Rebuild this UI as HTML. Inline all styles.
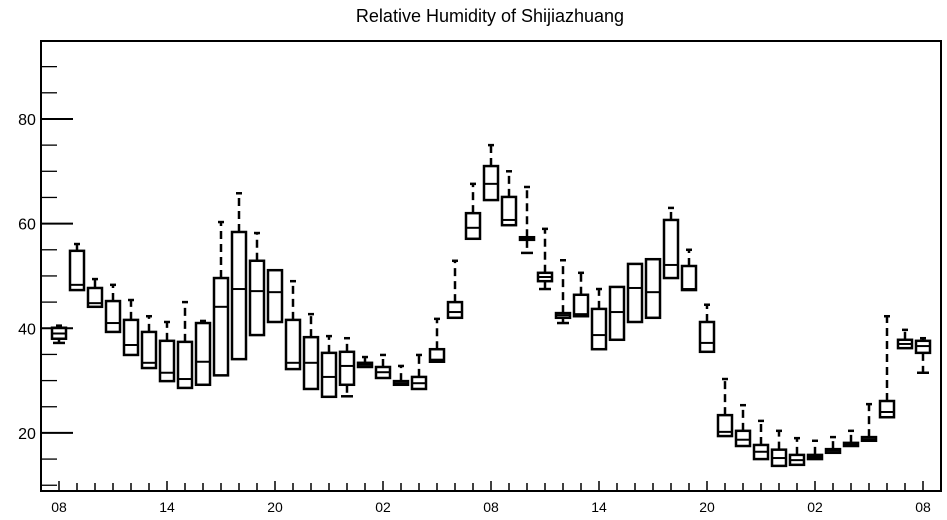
<!DOCTYPE html>
<html><head><meta charset="utf-8"><style>body{margin:0;background:#fff}svg{display:block}</style></head>
<body>
<svg id="chart" width="947" height="520" xmlns="http://www.w3.org/2000/svg" font-family="Liberation Sans, sans-serif">
<text x="490" y="22" text-anchor="middle" font-size="18">Relative Humidity of Shijiazhuang</text>
<g id="axes"></g>
<g id="boxes"></g>
<rect x="41" y="41" width="900" height="450" fill="none" stroke="#000" stroke-width="2"/>
</svg>
<script>
const q3 =  [40.1,54.8,47.7,45.2,41.6,39.3,37.6,37.4,41.0,49.6,58.4,52.9,51.1,41.6,38.3,35.3,35.5,33.4,32.6,29.9,30.7,36.0,45.0,62.0,71.0,65.1,57.4,50.6,42.9,46.4,43.7,47.9,52.3,53.2,60.7,51.9,41.2,23.4,20.4,17.7,16.8,15.8,15.8,16.9,18.1,19.2,26.1,37.8,37.6];
const q1 =  [38.0,47.3,44.1,39.3,34.9,32.4,29.9,28.6,29.2,31.0,34.1,38.7,41.2,32.2,28.4,26.9,29.2,32.6,30.5,29.2,28.4,33.6,42.0,57.1,64.5,59.7,56.9,49.0,42.0,42.3,36.0,37.8,41.2,42.0,49.6,47.3,35.5,19.4,17.5,15.0,13.7,13.9,15.0,16.2,17.5,18.5,23.0,36.2,35.3];
const med = [39.0,48.3,44.8,41.0,36.8,33.4,31.5,30.3,33.6,44.1,47.5,47.1,46.9,33.4,33.4,30.7,32.8,33.0,31.6,29.5,29.5,34.0,43.1,59.2,67.6,60.7,57.1,49.8,42.5,42.7,38.7,43.1,47.7,46.9,52.1,47.5,37.2,20.2,18.7,16.4,15.2,14.8,15.4,16.6,17.7,18.8,24.0,37.0,36.6];
const maxs =[40.5,56.1,49.4,48.3,45.4,42.3,41.2,45.0,41.4,60.3,65.8,58.2,51.1,49.0,42.7,38.5,38.1,34.5,34.9,32.8,34.9,41.8,52.9,67.6,75.0,70.0,67.0,59.0,53.0,50.6,47.5,47.3,52.3,53.2,63.0,55.0,44.5,30.3,25.3,22.3,20.4,19.0,18.5,19.2,20.4,25.5,42.3,39.7,38.1];
const mins =[37.2,47.3,44.1,39.3,34.9,32.4,29.9,28.6,29.2,31.0,34.1,38.7,41.2,32.2,28.4,26.9,27.0,32.6,30.5,29.2,28.4,33.6,42.0,57.1,64.5,59.7,54.4,47.5,41.0,42.3,36.0,37.8,41.2,42.0,49.6,47.3,35.5,19.4,17.5,15.0,13.7,13.9,15.0,16.2,17.5,18.5,23.0,36.2,31.5];
const yTicks = [20,40,60,80];
const xLabels = ["08","14","20","02","08","14","20","02","08"];
const NS="http://www.w3.org/2000/svg";
const yMin=8.9,yMax=94.9,plotTop=41,plotBot=491;
const y=v=>plotBot-(v-yMin)/(yMax-yMin)*(plotBot-plotTop);
const x=i=>59+18*i;
function mk(tag,attrs,parent){const e=document.createElementNS(NS,tag);for(const k in attrs)e.setAttribute(k,attrs[k]);parent.appendChild(e);return e;}
const ax=document.getElementById('axes');
for(let v=10;v<=90;v+=5){
  const major=yTicks.includes(v);
  const t=mk('line',{x1:41,x2:major?73:57,y1:y(v),y2:y(v),stroke:'#000','stroke-width':major?2:1.3},ax);
  
  
}
yTicks.forEach(v=>{const t=mk('text',{x:27,y:y(v)+6,'text-anchor':'middle','font-size':16},ax);t.textContent=v;
  
  });
for(let i=0;i<q3.length;i++){
  const t=mk('line',{x1:x(i),x2:x(i),y1:plotBot,y2:plotBot-(i%6==0?10:8),stroke:'#000','stroke-width':1.5},ax);
  
  
}
xLabels.forEach((l,k)=>{const t=mk('text',{x:x(k*6),y:512,'text-anchor':'middle','font-size':14},ax);t.textContent=l;
  
  });
const bx=document.getElementById('boxes');
for(let i=0;i<q3.length;i++){
  const g=mk('g',{},bx);
  
  
  const cx=x(i);
  if(maxs[i]>q3[i]+0.3){
    mk('line',{x1:cx,x2:cx,y1:y(q3[i]),y2:y(maxs[i]),stroke:'#000','stroke-width':2.5,'stroke-dasharray':'8,5'},g);
    mk('line',{x1:cx-3,x2:cx+3,y1:y(maxs[i]),y2:y(maxs[i]),stroke:'#000','stroke-width':2.5},g);
  }
  if(mins[i]<q1[i]-0.3){
    mk('line',{x1:cx,x2:cx,y1:y(q1[i]),y2:y(mins[i]),stroke:'#000','stroke-width':2.5,'stroke-dasharray':'8,5'},g);
    mk('line',{x1:cx-6,x2:cx+6,y1:y(mins[i]),y2:y(mins[i]),stroke:'#000','stroke-width':2.5},g);
  }
  mk('rect',{x:cx-7,y:y(q3[i]),width:14,height:Math.max(1,y(q1[i])-y(q3[i])),fill:'none',stroke:'#000','stroke-width':2.5},g);
  mk('line',{x1:cx-7,x2:cx+7,y1:y(med[i]),y2:y(med[i]),stroke:'#000','stroke-width':2},g);
}
</script>
</body></html>
